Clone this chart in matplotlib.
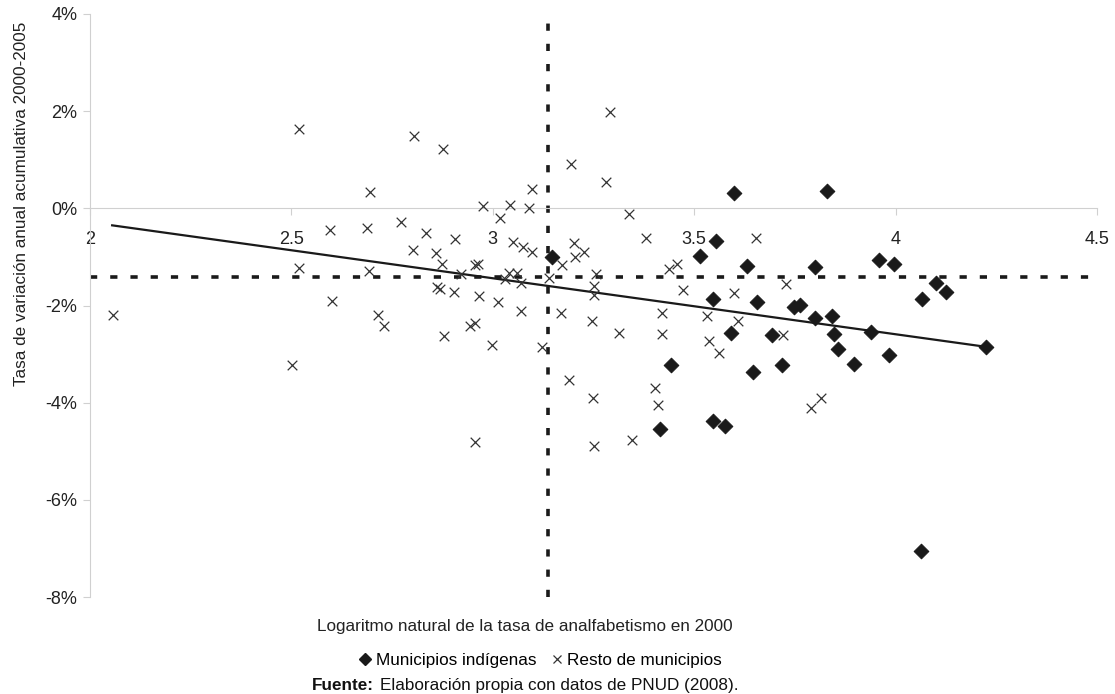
import matplotlib
matplotlib.use("Agg")
import matplotlib.pyplot as plt
from matplotlib.lines import Line2D
from matplotlib import font_manager

names = {f.name for f in font_manager.fontManager.ttflist}
NARROW = 'Liberation Sans Narrow' in names
if NARROW:
    plt.rcParams['font.family'] = ['Liberation Sans Narrow', 'DejaVu Sans']
    FS = 14.5
    TFS = 15
else:
    plt.rcParams['font.family'] = ['Liberation Sans', 'DejaVu Sans']
    FS = 12.3
    TFS = 13

# Municipios indígenas (diamonds): ln(analfabetismo 2000), tasa (%)
ind_x = [3.146, 3.600, 3.830, 3.553, 3.515, 3.632, 3.799, 3.547, 3.655, 3.749,
         3.762, 3.800, 3.843, 3.592, 3.694, 3.846, 3.857, 3.443, 3.646, 3.718,
         3.414, 3.546, 3.577, 3.940, 3.896, 3.983, 4.224, 3.959, 3.995, 4.066,
         4.101, 4.125, 4.062]
ind_y = [-1.00, 0.31, 0.35, -0.67, -0.98, -1.19, -1.21, -1.86, -1.93, -2.03,
         -1.98, -2.25, -2.22, -2.56, -2.61, -2.58, -2.90, -3.23, -3.37, -3.23,
         -4.55, -4.38, -4.48, -2.54, -3.20, -3.02, -2.85, -1.06, -1.14, -1.86,
         -1.54, -1.73, -7.06]

# Resto de municipios (crosses)
rest_x = [2.519, 2.597, 2.519, 2.601, 2.056, 2.805, 2.877, 2.696, 3.098, 3.195,
          2.976, 3.043, 3.091, 3.018, 2.688, 2.771, 2.833, 2.907, 2.801, 2.860,
          3.049, 3.074, 3.097, 3.202, 3.203, 3.226, 3.172, 2.874, 2.956, 2.964,
          2.693, 2.921, 3.040, 3.059, 3.030, 3.069, 3.140, 2.862, 2.868, 2.904,
          2.965, 3.012, 2.716, 2.730, 3.069, 3.170, 2.943, 2.955, 2.879, 2.999,
          3.121, 3.189, 2.955, 3.247, 3.249, 2.502, 3.292, 3.280, 3.338, 3.380,
          3.654, 3.458, 3.438, 3.256, 3.251, 3.251, 3.472, 3.598, 3.729, 3.421,
          3.532, 3.608, 3.313, 3.420, 3.536, 3.562, 3.720, 3.402, 3.411, 3.345,
          3.252, 3.816, 3.791]
rest_y = [1.64, -0.44, -1.22, -1.91, -2.20, 1.48, 1.23, 0.34, 0.39, 0.92,
          0.04, 0.07, 0.01, -0.20, -0.40, -0.29, -0.50, -0.64, -0.85, -0.92,
          -0.70, -0.80, -0.90, -0.71, -1.01, -0.90, -1.16, -1.14, -1.17, -1.14,
          -1.30, -1.35, -1.34, -1.33, -1.45, -1.53, -1.43, -1.62, -1.66, -1.72,
          -1.80, -1.93, -2.19, -2.43, -2.11, -2.15, -2.43, -2.36, -2.63, -2.82,
          -2.85, -3.54, -4.81, -2.32, -3.90, -3.22, 1.98, 0.55, -0.11, -0.62,
          -0.61, -1.14, -1.24, -1.36, -1.60, -1.79, -1.69, -1.74, -1.55, -2.15,
          -2.22, -2.32, -2.56, -2.59, -2.73, -2.97, -2.61, -3.70, -4.05, -4.77,
          -4.90, -3.90, -4.12]

# Linear trend endpoints and reference (mean) lines
trend_x = [2.055, 4.224]
trend_y = [-0.35, -2.85]
mean_x = 3.137
mean_y = -1.41

x_ticks = [2, 2.5, 3, 3.5, 4, 4.5]
x_labels = ['2', '2.5', '3', '3.5', '4', '4.5']
y_ticks = [-8, -6, -4, -2, 0, 2, 4]

W, H = 1115, 694
fig = plt.figure(figsize=(W / 100, H / 100), dpi=100)
ax = fig.add_axes([90 / W, 1 - 597 / H, 1007 / W, 583 / H])

ax.set_xlim(2, 4.5)
ax.set_ylim(-8, 4)

dark = '#1a1a1a'
ax.axvline(mean_x, color=dark, lw=2.6, linestyle=(0, (2.0, 3.6)), zorder=2)
ax.axhline(mean_y, color=dark, lw=2.6, linestyle=(0, (2.0, 3.6)), zorder=2)
ax.plot(trend_x, trend_y, color=dark, lw=1.6, zorder=3)

ax.scatter(rest_x, rest_y, marker='x', s=48, color='#333333', linewidths=0.9, zorder=4)
ax.scatter(ind_x, ind_y, marker='D', s=56, color=dark, edgecolors=dark, linewidths=0.7, zorder=5)

for s in ['top', 'right']:
    ax.spines[s].set_visible(False)
ax.spines['bottom'].set_position(('data', 0))
ax.spines['bottom'].set_color('#d0d0d0')
ax.spines['left'].set_color('#d0d0d0')

ax.set_xticks(x_ticks)
ax.set_xticklabels(x_labels)
ax.set_yticks(y_ticks)
ax.set_yticklabels([f'{v}%' for v in y_ticks])
ax.tick_params(axis='x', direction='out', length=5, color='#d0d0d0', pad=11,
               labelsize=TFS, labelcolor='#222222')
ax.tick_params(axis='y', direction='out', length=5, color='#d0d0d0', pad=4,
               labelsize=TFS, labelcolor='#222222')

fig.text(22 / W, 1 - 204 / H, 'Tasa de variación anual acumulativa 2000-2005',
         rotation=90, ha='center', va='center', fontsize=FS, color='#222222')
fig.text(525 / W, 1 - 627 / H, 'Logaritmo natural de la tasa de analfabetismo en 2000',
         ha='center', va='center', fontsize=FS, color='#222222')

h1 = Line2D([], [], marker='D', color=dark, linestyle='none', markersize=6)
h2 = Line2D([], [], marker='x', color='#333333', linestyle='none', markersize=6,
            markeredgewidth=0.9)
fig.legend([h1, h2], ['Municipios indígenas', 'Resto de municipios'],
           loc='center', bbox_to_anchor=(540 / W, 1 - 660 / H), ncol=2,
           frameon=False, fontsize=FS, handlelength=0.8, handletextpad=0.2,
           columnspacing=0.8, borderpad=0)

# Source line
fig.canvas.draw()
renderer = fig.canvas.get_renderer()
t1 = fig.text(312 / W, 1 - 678 / H, 'Fuente:', ha='left', va='top',
              fontsize=FS, fontweight='bold', color='#111111')
bb = t1.get_window_extent(renderer=renderer)
x_next = (bb.x1 + 6) / W
fig.text(x_next, 1 - 678 / H, 'Elaboración propia con datos de PNUD (2008).',
         ha='left', va='top', fontsize=FS, color='#111111')

fig.savefig('out.png', dpi=100)
